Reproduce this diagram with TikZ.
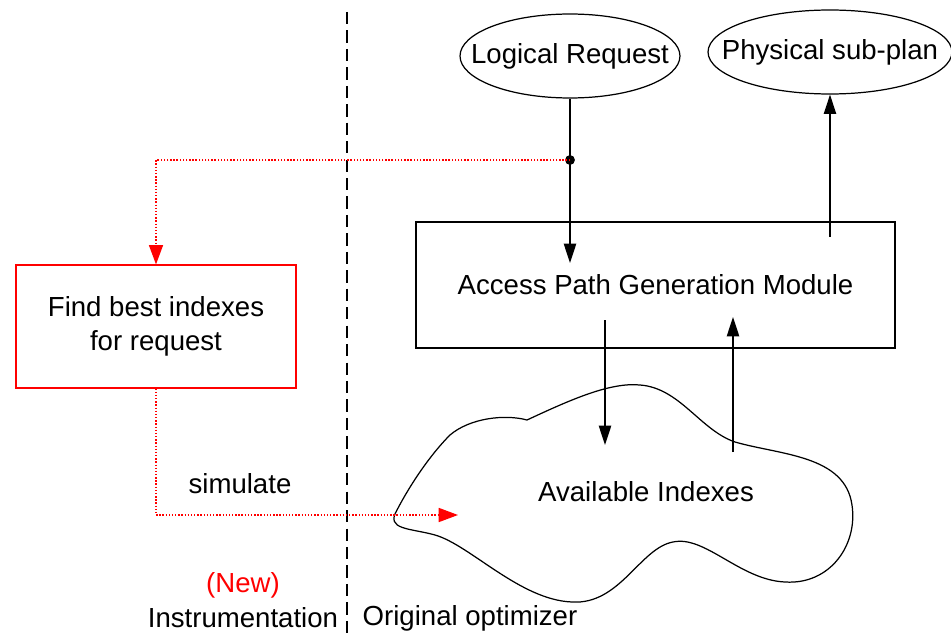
\documentclass[tikz,border=0pt]{standalone}
\usepackage{fontspec}
\setmainfont{Liberation Sans}
\usetikzlibrary{arrows.meta,shapes,calc}
\tikzstyle{textfont}=[font=\fontsize{15.7}{19}\selectfont]
\tikzstyle{ellipsenode}=[ellipse,draw,line width=0.7pt,minimum width=4.4cm,minimum height=1.68cm,inner sep=0pt,label={[textfont]center:#1}]
\tikzstyle{modulebox}=[rectangle,draw,line width=0.7pt,minimum width=9.58cm,minimum height=2.52cm,textfont]
\tikzstyle{newbox}=[rectangle,draw=red,line width=0.7pt,minimum width=5.6cm,minimum height=2.46cm,align=center,textfont]
\tikzstyle{plaintext}=[textfont,inner sep=0pt]
\tikzstyle{edge} = [draw,line width=0.8pt,-{Triangle[length=11pt,width=7pt]}]
\tikzstyle{simedge} = [draw,red,densely dotted,line width=0.8pt,-{Triangle[length=11pt,width=8pt]}]
\tikzstyle{divider} = [draw,line width=0.7pt,dash pattern=on 7pt off 3.5pt]

\begin{document}
\begin{tikzpicture}[x=0.02cm,y=-0.02cm]
    \useasboundingbox (0,0) rectangle (951,635);

    % The nodes of the optimizer
    \node[ellipsenode={Logical Request}] (logreq) at (570,56) {};
    \node[ellipsenode={Physical sub-plan}, minimum width=4.88cm] (physplan) at (830,52) {};
    \node[modulebox] (apgm) at (655.5,285) {Access Path Generation Module};
    \node[newbox] (findidx) at (156,326.5) {Find best indexes\\ for request};

    % The cloud of indexes
    \draw[line width=0.7pt] (527,420) .. controls (570,400) and (610,382) .. (640,385)
        .. controls (680,388) and (700,430) .. (735,442)
        .. controls (780,455) and (845,455) .. (852,505)
        .. controls (858,545) and (830,585) .. (785,582)
        .. controls (740,580) and (705,535) .. (673,542)
        .. controls (640,548) and (620,605) .. (572,602)
        .. controls (520,600) and (470,545) .. (435,535)
        .. controls (410,528) and (385,530) .. (397,510)
        .. controls (410,485) and (430,455) .. (450,435)
        .. controls (470,418) and (505,414) .. (527,420) -- cycle;
    \node[plaintext] (avail) at (646,492) {Available Indexes};

    % Texts
    \node[plaintext] (simulate) at (240,484) {simulate};
    \node[plaintext, red] (new) at (243,585) {(New)};
    \node[plaintext] (instr) at (243,618) {Instrumentation};
    \node[plaintext] (orig) at (470,618) {Original optimizer};

    % Free ends of the connectors
    \coordinate (split) at (570,160);
    \coordinate (reqin) at (570,263);
    \coordinate (planout) at (830,237);
    \coordinate (simin) at (458,515);
    \foreach \name/\x/\y in {downa/605/320, downb/605/445, upa/733/452, upb/733/317, divtop/347/12, divbot/347/635}
        \coordinate (\name) at (\x,\y);

    % Divider between instrumentation and optimizer
    \path[divider] (divtop) -- (divbot);

    % Connect the nodes
    \path[edge] (logreq.south) -- (reqin);
    \fill (split) circle (2.8pt);
    \path[edge] (planout) -- (physplan.south);
    \path[edge] (downa) -- (downb);
    \path[edge] (upa) -- (upb);

    % The red connectors
    \path[simedge] (split) -| (findidx.north);
    \path[simedge] (findidx.south) |- (simin);

\end{tikzpicture}
\end{document}
